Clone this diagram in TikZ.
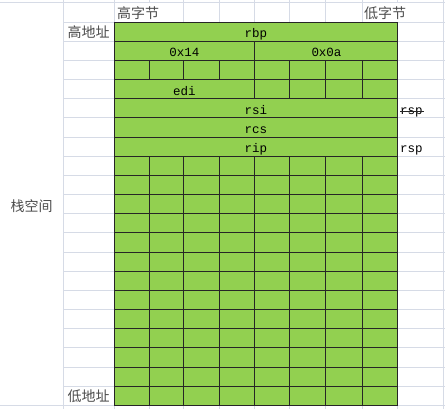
\documentclass[tikz,border=0pt]{standalone}
\usepackage{fontspec}
\setmonofont{Liberation Mono}
\newfontfamily\cjk{Noto Sans CJK SC}
\definecolor{cellgreen}{RGB}{146,208,80}
\definecolor{gridgray}{RGB}{214,219,230}
\newcommand{\rowh}{19.17}

\begin{document}
\begin{tikzpicture}[x=1pt,y=-1pt,
  gridline/.style={gridgray,line width=0.8pt},
  cellline/.style={black!85,line width=0.9pt},
  zh/.style={font=\cjk\fontsize{14}{14}\selectfont,text=black!70,inner sep=0pt,anchor=base},
  reg/.style={font=\ttfamily\fontsize{12.5}{12.5}\selectfont,text=black,inner sep=0pt,anchor=base}]
\useasboundingbox (0,0) rectangle (445,409);
\fill[white] (0,0) rectangle (445,409);
\draw[gridline] (0,2) -- (445,2);
\foreach \k in {0,...,19} \draw[gridline] (63,{22+\rowh*\k}) -- (445,{22+\rowh*\k});
\draw[gridline] (0,{22+\rowh*20}) -- (445,{22+\rowh*20});
\foreach \x in {63,114,183,219,254,289,325,362,443} \draw[gridline] (\x,0) -- (\x,409);
\foreach \x in {149,397} \draw[gridline] (\x,0) -- (\x,2) (\x,22) -- (\x,409);
\fill[cellgreen] (114,22) rectangle (397,{22+\rowh*20});
\foreach \k in {1,...,19} \draw[cellline] (114,{22+\rowh*\k}) -- (397,{22+\rowh*\k});
\draw[cellline] (254,{22+\rowh}) -- (254,{22+\rowh*2});
\foreach \x in {149,183,219,254,289,325,362} \draw[cellline] (\x,{22+\rowh*2}) -- (\x,{22+\rowh*3});
\foreach \x in {254,289,325,362} \draw[cellline] (\x,{22+\rowh*3}) -- (\x,{22+\rowh*4});
\foreach \x in {149,183,219,254,289,325,362} \draw[cellline] (\x,{22+\rowh*7}) -- (\x,{22+\rowh*20});
\draw[cellline] (114,22) rectangle (397,{22+\rowh*20});
\node[zh,anchor=base west] (hibyte) at (117,18.5) {高字节};
\node[zh,anchor=base west] (lobyte) at (364,18.5) {低字节};
\node[zh] (hiaddr) at (88.5,{22+\rowh-3.5}) {高地址};
\node[zh] (loaddr) at (88.5,{22+\rowh*20-3.5}) {低地址};
\node[zh] (stack) at (31.5,212) {栈空间};
\node[reg] (rbp) at (256,{22+\rowh-3.5}) {rbp};
\node[reg] (hiword) at (184.5,{22+\rowh*2-3.5}) {0x14};
\node[reg] (loword) at (326.5,{22+\rowh*2-3.5}) {0x0a};
\node[reg] (edi) at (184.5,{22+\rowh*4-3.5}) {edi};
\node[reg] (rsi) at (256,{22+\rowh*5-3.5}) {rsi};
\node[reg] (rcs) at (256,{22+\rowh*6-3.5}) {rcs};
\node[reg] (rip) at (256,{22+\rowh*7-3.5}) {rip};
\node[reg,anchor=base west] (oldsp) at (400,{22+\rowh*5-3.5}) {rsp};
\draw[black!85,line width=0.7pt] ([yshift=3.4pt]oldsp.base west) -- ([xshift=1pt,yshift=3.4pt]oldsp.base east);
\node[reg,anchor=base west] (newsp) at (400,{22+\rowh*7-3.5}) {rsp};
\end{tikzpicture}
\end{document}
